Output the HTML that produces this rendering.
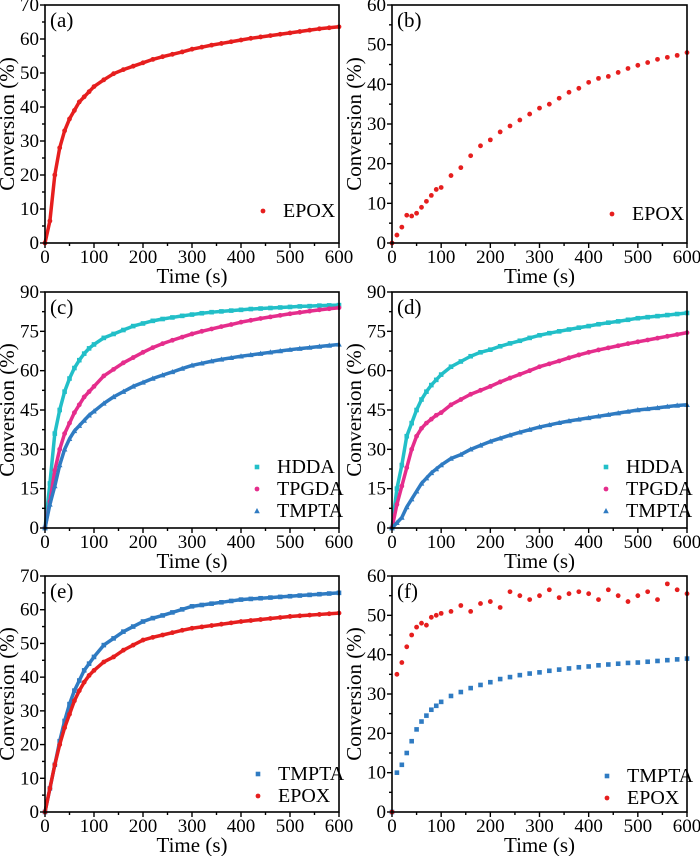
<!DOCTYPE html>
<html><head><meta charset="utf-8">
<style>
html,body{margin:0;padding:0;background:#fff;}
svg{display:block;}
svg text{font-family:"Liberation Serif","DejaVu Serif","Times New Roman",serif;}
</style></head>
<body>
<svg id="fig" width="700" height="856" viewBox="0 0 700 856" xmlns="http://www.w3.org/2000/svg"></svg>
<script>
const T = [0,10,20,30,40,50,60,70,80,90,100,120,140,160,180,200,220,240,260,280,300,320,340,360,380,400,420,440,460,480,500,520,540,560,580,600];
const aEPOX = [0,6.5,20,28,33,36.5,39,41.5,43,44.5,46,48,49.8,51,52,53,54,54.8,55.5,56.2,57,57.6,58.2,58.7,59.2,59.7,60.2,60.6,61,61.4,61.8,62.2,62.6,63,63.3,63.6];
const bEPOX = [0,2,4,7,6.8,7.5,9,10.5,12,13.5,14,17,19,22,24.5,26,28,29.5,31,32.5,34,35,36.5,38,39,40.5,41.5,42,43,44,44.8,45.5,46.3,46.8,47.3,48];
const cHDDA = [0,17,36,45,52,57,61,64,66.5,68.5,70,72.5,74,75.5,77,78,79,79.7,80.3,80.9,81.4,81.9,82.3,82.6,82.9,83.2,83.5,83.7,83.9,84.1,84.3,84.5,84.6,84.8,84.9,85];
const cTPGDA = [0,10,22,30,36,40,44,47,50,52,54,58,60.5,63,65,67,68.8,70.3,71.6,72.8,74,75,75.9,76.8,77.6,78.5,79.2,79.9,80.5,81.1,81.7,82.2,82.7,83.2,83.6,84];
const cTMPTA = [0,9,16,24,30,34,37,39,41,43,44.5,47.5,50,52,54,55.5,57,58.3,59.5,60.8,62,62.8,63.6,64.3,64.9,65.5,66,66.5,67,67.5,68,68.4,68.8,69.2,69.6,70];
const dHDDA = [0,15,24,35,40,45,49,52,54.5,56.5,58.5,61.5,63.5,65.5,67,68,69.3,70.4,71.4,72.5,73.5,74.3,75,75.7,76.4,77,77.7,78.3,78.8,79.4,80,80.4,80.8,81.2,81.6,82];
const dTPGDA = [0,9,16,23,30,35,38,40,41.5,43,44,47,49,51,52.5,54,55.7,57.2,58.6,60,61.5,62.6,63.7,64.9,66,67,67.9,68.7,69.5,70.3,71,71.7,72.4,73.1,73.8,74.5];
const dTMPTA = [0,2,4,8,11,14,17,19,21,22.5,24,26.5,28,30,31.5,33,34.2,35.4,36.5,37.5,38.5,39.3,40.1,40.8,41.4,42,42.6,43.2,43.8,44.4,45,45.4,45.8,46.3,46.7,47];
const eTMPTA = [0,7,14,21,27,32,36,39,42,44,46,49.5,51.5,53.5,55,56.5,57.5,58.3,59.2,60.1,61,61.4,61.8,62.2,62.6,63,63.2,63.4,63.6,63.8,64,64.2,64.4,64.6,64.8,65];
const eEPOX = [0,7,14,20,25,29,33,36,38.5,40.5,42,44.5,46,48,49.5,51,51.8,52.5,53.2,53.9,54.5,54.9,55.3,55.7,56.1,56.5,56.8,57.1,57.4,57.7,58,58.2,58.4,58.6,58.8,59];
const fTMPTA = [0,10,12,15,18,21,23,24.5,26,27,28,29.5,30.5,31.5,32.3,33,33.8,34.3,34.8,35.2,35.5,35.9,36.2,36.5,36.8,37,37.3,37.5,37.7,37.9,38,38.2,38.4,38.6,38.8,39];
const fEPOX = [0,35,38,42,45,47,48,47.5,49.5,50,50.5,51,52.5,51,53,53.5,52,56,55,54,55,56.5,54.5,55.5,56,55.5,54,56.5,55,53.5,55,56,54,58,56.5,55.5];
const xTicks = [0,100,200,300,400,500,600];

const RED="#e61e1e", CYAN="#22bfc8", MAG="#e52d8c", BLUE="#2f7bc2";
const FONT='"Liberation Serif","DejaVu Serif","Times New Roman",serif';
const NS="http://www.w3.org/2000/svg";
const svg=document.getElementById('fig');
function mk(tag,attrs,parent){const e=document.createElementNS(NS,tag);for(const k in attrs)e.setAttribute(k,attrs[k]);if(tag==='text')e.setAttribute('font-family',FONT);(parent||svg).appendChild(e);return e;}

const panels=[
 {id:'a',x0:45,x1:339,y0:243,y1:5,ymax:70,ystep:10,series:[{n:'EPOX',d:aEPOX,c:RED,m:'circle',line:true}],leg:{x:263,y:211}},
 {id:'b',x0:392,x1:687,y0:243,y1:5,ymax:60,ystep:10,series:[{n:'EPOX',d:bEPOX,c:RED,m:'circle',line:false}],leg:{x:612,y:214}},
 {id:'c',x0:45,x1:339,y0:528,y1:292,ymax:90,ystep:15,series:[{n:'HDDA',d:cHDDA,c:CYAN,m:'square',line:true},{n:'TPGDA',d:cTPGDA,c:MAG,m:'circle',line:true},{n:'TMPTA',d:cTMPTA,c:BLUE,m:'tri',line:true}],leg:{x:257,y:467}},
 {id:'d',x0:392,x1:687,y0:528,y1:292,ymax:90,ystep:15,series:[{n:'HDDA',d:dHDDA,c:CYAN,m:'square',line:true},{n:'TPGDA',d:dTPGDA,c:MAG,m:'circle',line:true},{n:'TMPTA',d:dTMPTA,c:BLUE,m:'tri',line:true}],leg:{x:606,y:467}},
 {id:'e',x0:45,x1:339,y0:812,y1:576,ymax:70,ystep:10,series:[{n:'TMPTA',d:eTMPTA,c:BLUE,m:'square',line:true},{n:'EPOX',d:eEPOX,c:RED,m:'circle',line:true}],leg:{x:258,y:774}},
 {id:'f',x0:392,x1:687,y0:812,y1:576,ymax:60,ystep:10,series:[{n:'TMPTA',d:fTMPTA,c:BLUE,m:'square',line:false},{n:'EPOX',d:fEPOX,c:RED,m:'circle',line:false}],leg:{x:607,y:776}}
];

function marker(g,type,x,y,c){
  let e;
  if(type==='circle') e=mk('circle',{cx:x,cy:y,r:2.4,fill:c},g);
  else if(type==='square') e=mk('rect',{x:x-2.3,y:y-2.3,width:4.6,height:4.6,fill:c},g);
  else e=mk('polygon',{points:`${x},${y-3} ${x-2.8},${y+2.2} ${x+2.8},${y+2.2}`,fill:c},g);
  return e;
}

panels.forEach(p=>{
  const g=mk('g',{});
  
  
  const sx=v=>p.x0+(p.x1-p.x0)*v/600;
  const sy=v=>p.y0-(p.y0-p.y1)*v/p.ymax;
  p.series.forEach(s=>{
    const sg=mk('g',{},g);
    
    
    if(s.line){
      const pts=T.map((t,i)=>sx(t)+','+sy(s.d[i])).join(' ');
      const pl=mk('polyline',{points:pts,fill:'none',stroke:s.c,'stroke-width':3.5,'stroke-linejoin':'round'},sg);
      
      
    }
    T.forEach((t,i)=>{
      const m=marker(sg,s.m,sx(t),sy(s.d[i]),s.c);
      
      
    });
  });
  const fr=mk('rect',{x:p.x0,y:p.y1,width:p.x1-p.x0,height:p.y0-p.y1,fill:'none',stroke:'#000','stroke-width':1.6},g);
  
  
  for(let v=0;v<=600;v+=50){
    const major=v%100===0;
    mk('line',{x1:sx(v),x2:sx(v),y1:p.y0,y2:p.y0+(major?5:3),stroke:'#000','stroke-width':1.4},g);
  }
  xTicks.forEach(v=>{
    const t=mk('text',{x:sx(v),y:p.y0+20,'font-size':19,'text-anchor':'middle'},g);
    t.textContent=v;
    
    
  });
  for(let v=0;v<=p.ymax+1e-6;v+=p.ystep/2){
    const major=Math.abs(v/p.ystep-Math.round(v/p.ystep))<1e-6;
    mk('line',{x1:p.x0,x2:p.x0-(major?5:3),y1:sy(v),y2:sy(v),stroke:'#000','stroke-width':1.4},g);
    if(major){
      const t=mk('text',{x:p.x0-6,y:sy(v)+6,'font-size':19,'text-anchor':'end'},g);
      t.textContent=Math.round(v);
      
      
    }
  }
  const xt=mk('text',{x:(p.x0+p.x1)/2,y:p.y0+40,'font-size':21,'text-anchor':'middle'},g);
  xt.textContent='Time (s)';
  
  
  const cx=p.x0-31, cy=(p.y0+p.y1)/2;
  const yt=mk('text',{x:cx,y:cy,'font-size':21,'text-anchor':'middle',transform:`rotate(-90 ${cx} ${cy})`},g);
  yt.textContent='Conversion (%)';
  
  
  const pl=mk('text',{x:p.x0+5,y:p.y1+22,'font-size':21},g);
  pl.textContent='('+p.id+')';
  
  
  p.series.forEach((s,i)=>{
    const ly=p.leg.y+i*22;
    const le=mk('g',{},g);
    
    
    marker(le,s.m,p.leg.x,ly,s.c);
    const t=mk('text',{x:p.leg.x+20,y:ly+6,'font-size':20},le);
    t.textContent=s.n;
  });
});
</script>
</body></html>
